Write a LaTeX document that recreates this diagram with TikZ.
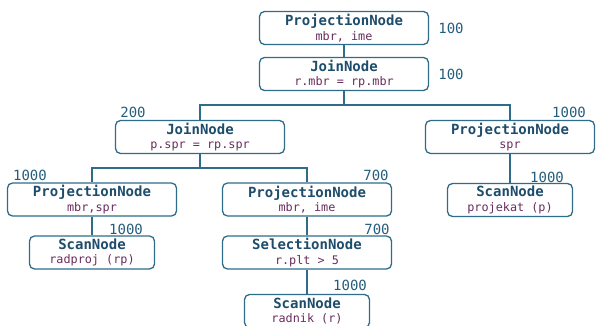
\documentclass[tikz,border=0pt]{standalone}
\usepackage{fontspec}
\setmonofont{DejaVu Sans Mono}
\setmainfont{DejaVu Sans Mono}
\definecolor{boxline}{HTML}{2F6C8C}
\definecolor{titlec}{HTML}{1E4D6B}
\definecolor{subc}{HTML}{6B2C5E}
\definecolor{numc}{HTML}{245D7C}
\tikzset{
  plan/.style={draw=boxline, line width=1.3pt, rounded corners=5pt, fill=white,
    minimum height=33pt, inner sep=0pt, align=center},
  wide/.style={plan, minimum width=169pt},
  narrow/.style={plan, minimum width=125pt},
  cnt/.style={text=numc, font=\fontsize{14}{15}\selectfont, inner sep=0pt},
  link/.style={draw=boxline, line width=1.3pt},
}
\newcommand{\nt}[2]{{\fontsize{14}{15}\selectfont\bfseries\color{titlec}#1}\\[2.5pt]{\fontsize{11.8}{13}\selectfont\color{subc}#2}}
\begin{document}
\begin{tikzpicture}[x=1pt,y=-1pt]
\useasboundingbox (0,0) rectangle (596,326);
\node[wide] (p1) at (344,28) {\nt{ProjectionNode}{mbr, ime}};
\node[wide] (j1) at (344,74) {\nt{JoinNode}{r.mbr = rp.mbr}};
\node[wide] (j2) at (200,137) {\nt{JoinNode}{p.spr = rp.spr}};
\node[wide] (p2) at (510,137) {\nt{ProjectionNode}{spr}};
\node[wide] (p3) at (92,199.5) {\nt{ProjectionNode}{mbr,spr}};
\node[wide] (p4) at (307,199.5) {\nt{ProjectionNode}{mbr, ime}};
\node[narrow] (s1) at (510,200) {\nt{ScanNode}{projekat (p)}};
\node[narrow] (s2) at (92,252.5) {\nt{ScanNode}{radproj (rp)}};
\node[wide] (sel) at (307,252.5) {\nt{SelectionNode}{r.plt > 5}};
\node[narrow] (s3) at (307,311) {\nt{ScanNode}{radnik (r)}};

\node[cnt] (c1) at (451,28) {100};
\node[cnt] (c2) at (451,74) {100};
\node[cnt] (c3) at (133,112) {200};
\node[cnt] (c4) at (569,112) {1000};
\node[cnt] (c5) at (30,175) {1000};
\node[cnt] (c6) at (376,175) {700};
\node[cnt] (c7) at (547,177) {1000};
\node[cnt] (c8) at (126,229) {1000};
\node[cnt] (c9) at (377,229) {700};
\node[cnt] (c10) at (350,285) {1000};

\draw[link] (p1.south) -- (j1.north);
\draw[link] (j1.south) -- (j1.south |- 0,105) -| (j2.north);
\draw[link] (j1.south |- 0,105) -| (p2.north);
\draw[link] (j2.south) -- (j2.south |- 0,168) -| (p3.north);
\draw[link] (j2.south |- 0,168) -| (p4.north);
\draw[link] (p2.south) -- (s1.north);
\draw[link] (p3.south) -- (s2.north);
\draw[link] (p4.south) -- (sel.north);
\draw[link] (sel.south) -- (s3.north);
\end{tikzpicture}
\end{document}
